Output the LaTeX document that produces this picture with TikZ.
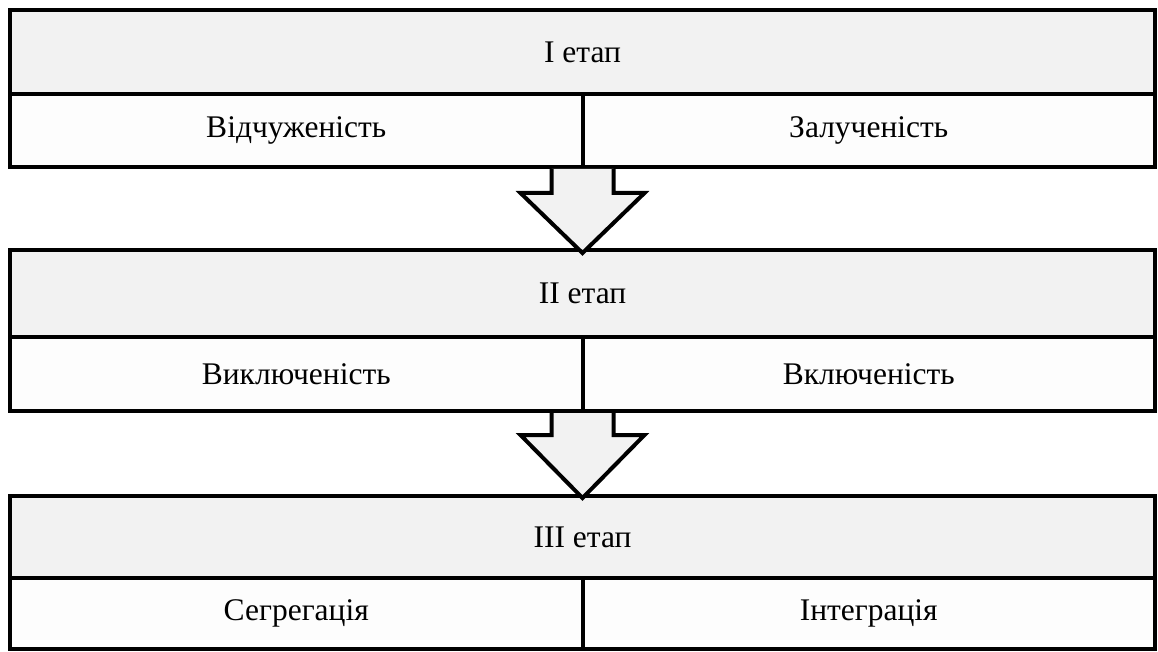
\documentclass[tikz,border=0pt]{standalone}
\usepackage{fontspec}
\setmainfont{Liberation Serif}
\usetikzlibrary{calc}
\definecolor{hdr}{HTML}{F2F2F2}
\definecolor{cellfill}{HTML}{FDFDFD}
\begin{document}
\begin{tikzpicture}[x=1pt,y=-1pt,
  box/.style={draw=black, line width=4pt, inner sep=0pt, outer sep=0pt, anchor=north west, font=\fontsize{31.5}{36}\selectfont},
  head/.style={box, fill=hdr, minimum width=1145pt},
  half/.style={box, fill=cellfill, minimum width=572.5pt},
  blockarrow/.style={draw=black, line width=4pt, fill=hdr, line join=miter}]
\useasboundingbox (0,0) rectangle (1158,652);
% block 1
\node[head, minimum height=84pt] (h1) at (10,10) {I етап};
\node[half, minimum height=73pt] (l1) at (h1.south west) {Відчуженість};
\node[half, minimum height=73pt] (r1) at (l1.north east) {Залученість};
% block 2
\node[head, minimum height=87pt] (h2) at (10,250) {II етап};
\node[half, minimum height=74pt] (l2) at (h2.south west) {Виключеність};
\node[half, minimum height=74pt] (r2) at (l2.north east) {Включеність};
% block 3
\node[head, minimum height=82pt] (h3) at (10,496) {III етап};
\node[half, minimum height=71pt] (l3) at (h3.south west) {Сегрегація};
\node[half, minimum height=71pt] (r3) at (l3.north east) {Інтеграція};
% arrows
\filldraw[blockarrow] ($(l1.south east)+(-31,2)$) -- ($(l1.south east)+(-31,26)$)
  -- ($(l1.south east)+(-62,26)$) -- ($(l1.south east |- h2.north)+(0,3)$)
  -- ($(l1.south east)+(62,26)$) -- ($(l1.south east)+(31,26)$) -- ($(l1.south east)+(31,2)$);
\filldraw[blockarrow] ($(l2.south east)+(-31,2)$) -- ($(l2.south east)+(-31,24)$)
  -- ($(l2.south east)+(-62,24)$) -- ($(l2.south east |- h3.north)+(0,2)$)
  -- ($(l2.south east)+(62,24)$) -- ($(l2.south east)+(31,24)$) -- ($(l2.south east)+(31,2)$);
\end{tikzpicture}
\end{document}
